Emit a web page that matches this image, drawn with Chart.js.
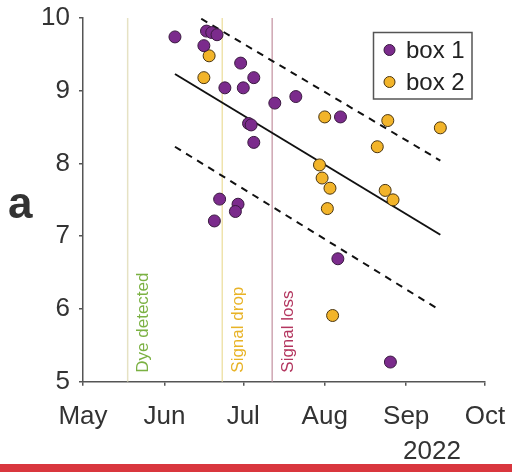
<!DOCTYPE html>
<html>
<head>
<meta charset="utf-8">
<script src="https://cdn.jsdelivr.net/npm/chart.js@4.4.1/dist/chart.umd.min.js"></script>
<style>
html, body { margin: 0; padding: 0; background: #fff; }
#wrap { position: relative; width: 512px; height: 472px; overflow: hidden; }
#bar { position: absolute; left: 0; bottom: 0; width: 512px; height: 8px; background: #d9363e; }
</style>
</head>
<body>
<div id="wrap">
    <canvas id="chart" width="512" height="472"></canvas>
    <div id="bar"></div>
</div>
<script>
// Axis ticks
const monthLabels = ['May', 'Jun', 'Jul', 'Aug', 'Sep', 'Oct'];
const monthStarts = ['2022-05-01', '2022-06-01', '2022-07-01', '2022-08-01', '2022-09-01', '2022-10-01'];
const yTicks = [5, 6, 7, 8, 9, 10];

// box 1 (purple)
const box1Dates = ['2022-06-05', '2022-06-17', '2022-06-19', '2022-06-21', '2022-06-16', '2022-06-30', '2022-07-05',
    '2022-06-24', '2022-07-01', '2022-07-13', '2022-07-21', '2022-08-07', '2022-07-03', '2022-07-04', '2022-07-05',
    '2022-06-22', '2022-06-29', '2022-06-28', '2022-06-20', '2022-08-06', '2022-08-26'];
const box1Values = [9.74, 9.82, 9.80, 9.77, 9.62, 9.38, 9.18,
    9.04, 9.04, 8.83, 8.92, 8.64, 8.55, 8.53, 8.29,
    7.51, 7.44, 7.34, 7.21, 6.69, 5.27];

// box 2 (orange)
const box2Dates = ['2022-06-18', '2022-06-16', '2022-08-01', '2022-08-25', '2022-09-14', '2022-08-21', '2022-07-30',
    '2022-07-31', '2022-08-03', '2022-08-24', '2022-08-27', '2022-08-02', '2022-08-04'];
const box2Values = [9.48, 9.18, 8.64, 8.59, 8.49, 8.23, 7.98,
    7.80, 7.66, 7.63, 7.50, 7.38, 5.91];

// regression line and prediction band (end points)
const fitDates = ['2022-06-05', '2022-09-14'];
const fitValues = [9.23, 7.02];
const upperDates = ['2022-06-15', '2022-09-14'];
const upperValues = [9.99, 8.04];
const lowerDates = ['2022-06-05', '2022-09-14'];
const lowerValues = [8.23, 5.98];

// events
const eventNames = ['Dye detected', 'Signal drop', 'Signal loss'];
const eventDates = ['2022-05-18', '2022-06-23', '2022-07-12'];
const eventLineColors = ['#e6e2c4', '#efe3ac', '#cfa6b2'];
const eventTextColors = ['#7bb143', '#e8b327', '#b3365f'];

const FONT = '"Liberation Sans", Arial, sans-serif';
const toMs = s => Date.parse(s);
const pts = (dates, vals) => dates.map((d, i) => ({ x: toMs(d), y: vals[i] }));

const datasets = [
    {
        label: 'box 1', data: pts(box1Dates, box1Values), order: 0,
        backgroundColor: '#7b2b8c', borderColor: '#3a1a40', borderWidth: 1, pointRadius: 6
    },
    {
        label: 'box 2', data: pts(box2Dates, box2Values), order: 0,
        backgroundColor: '#f2b42a', borderColor: '#4a3510', borderWidth: 1, pointRadius: 6
    },
    {
        label: 'fit', data: pts(fitDates, fitValues), showLine: true, order: 1,
        borderColor: '#111', borderWidth: 2, pointRadius: 0
    },
    {
        label: 'upper', data: pts(upperDates, upperValues), showLine: true, order: 1,
        borderColor: '#111', borderWidth: 2, borderDash: [7, 6], pointRadius: 0
    },
    {
        label: 'lower', data: pts(lowerDates, lowerValues), showLine: true, order: 1,
        borderColor: '#111', borderWidth: 2, borderDash: [7, 6], pointRadius: 0
    }
];
eventDates.forEach((d, i) => {
    datasets.push({
        label: eventNames[i],
        data: [{ x: toMs(d), y: yTicks[0] }, { x: toMs(d), y: yTicks[yTicks.length - 1] }],
        showLine: true, order: 2, borderColor: eventLineColors[i], borderWidth: 1.5, pointRadius: 0
    });
});

// labels, legend and panel letter
const extras = {
    id: 'extras',
    afterDraw(chart) {
        const ctx = chart.ctx;
        const xs = chart.scales.x, ys = chart.scales.y;

        // event labels, rotated
        eventDates.forEach((d, i) => {
            ctx.save();
            ctx.translate(xs.getPixelForValue(toMs(d)) + 16, ys.getPixelForValue(yTicks[0]) - 9);
            ctx.rotate(-Math.PI / 2);
            ctx.font = '17px ' + FONT;
            ctx.fillStyle = eventTextColors[i];
            ctx.textAlign = 'left';
            ctx.textBaseline = 'middle';
            ctx.fillText(eventNames[i], 0, 0);
            ctx.restore();
        });

        // legend box
        ctx.save();
        ctx.fillStyle = '#fff';
        ctx.fillRect(373.5, 32.5, 98.5, 66.5);
        ctx.strokeStyle = '#555';
        ctx.lineWidth = 1.5;
        ctx.strokeRect(373.5, 32.5, 98.5, 66.5);
        [0, 1].forEach(i => {
            const ds = chart.data.datasets[i];
            const cy = 50 + i * 32;
            ctx.beginPath();
            ctx.arc(389.5, cy, 5.5, 0, Math.PI * 2);
            ctx.fillStyle = ds.backgroundColor;
            ctx.fill();
            ctx.lineWidth = 1;
            ctx.strokeStyle = ds.borderColor;
            ctx.stroke();
            ctx.font = '24px ' + FONT;
            ctx.fillStyle = '#222';
            ctx.textAlign = 'left';
            ctx.textBaseline = 'middle';
            ctx.fillText(ds.label, 406, cy + 1);
        });

        // panel letter and year
        ctx.fillStyle = '#333';
        ctx.font = 'bold 44px ' + FONT;
        ctx.textAlign = 'left';
        ctx.textBaseline = 'alphabetic';
        ctx.fillText('a', 8, 218);
        ctx.font = '26px ' + FONT;
        ctx.textAlign = 'center';
        ctx.fillText('2022', 432, 459);
        ctx.restore();
    }
};

new Chart(document.getElementById('chart'), {
    type: 'scatter',
    data: { datasets },
    options: {
        responsive: false,
        animation: false,
        layout: { padding: { top: 18, right: 27, left: 0, bottom: 0 } },
        plugins: { legend: { display: false }, tooltip: { enabled: false } },
        scales: {
            x: {
                type: 'linear',
                min: toMs(monthStarts[0]),
                max: toMs(monthStarts[monthStarts.length - 1]),
                afterBuildTicks: scale => { scale.ticks = monthStarts.map(m => ({ value: toMs(m) })); },
                afterFit: scale => { scale.height = 90.3; scale.paddingLeft = 0; scale.paddingRight = 0; },
                border: { color: '#555', width: 1.5 },
                grid: { drawOnChartArea: false, tickLength: 4, color: '#555', lineWidth: 1.5 },
                ticks: {
                    autoSkip: false, maxRotation: 0, padding: 16,
                    color: '#333', font: { family: FONT, size: 26 },
                    callback: v => monthLabels[monthStarts.map(toMs).indexOf(v)]
                }
            },
            y: {
                min: yTicks[0], max: yTicks[yTicks.length - 1],
                afterBuildTicks: scale => { scale.ticks = yTicks.map(v => ({ value: v })); },
                afterFit: scale => { scale.width = 83; scale.paddingTop = 0; scale.paddingBottom = 0; },
                border: { color: '#555', width: 1.5 },
                grid: { drawOnChartArea: false, tickLength: 4, color: '#555', lineWidth: 1.5 },
                ticks: { padding: 9, color: '#333', font: { family: FONT, size: 26 } }
            }
        }
    },
    plugins: [extras]
});
</script>
</body>
</html>
